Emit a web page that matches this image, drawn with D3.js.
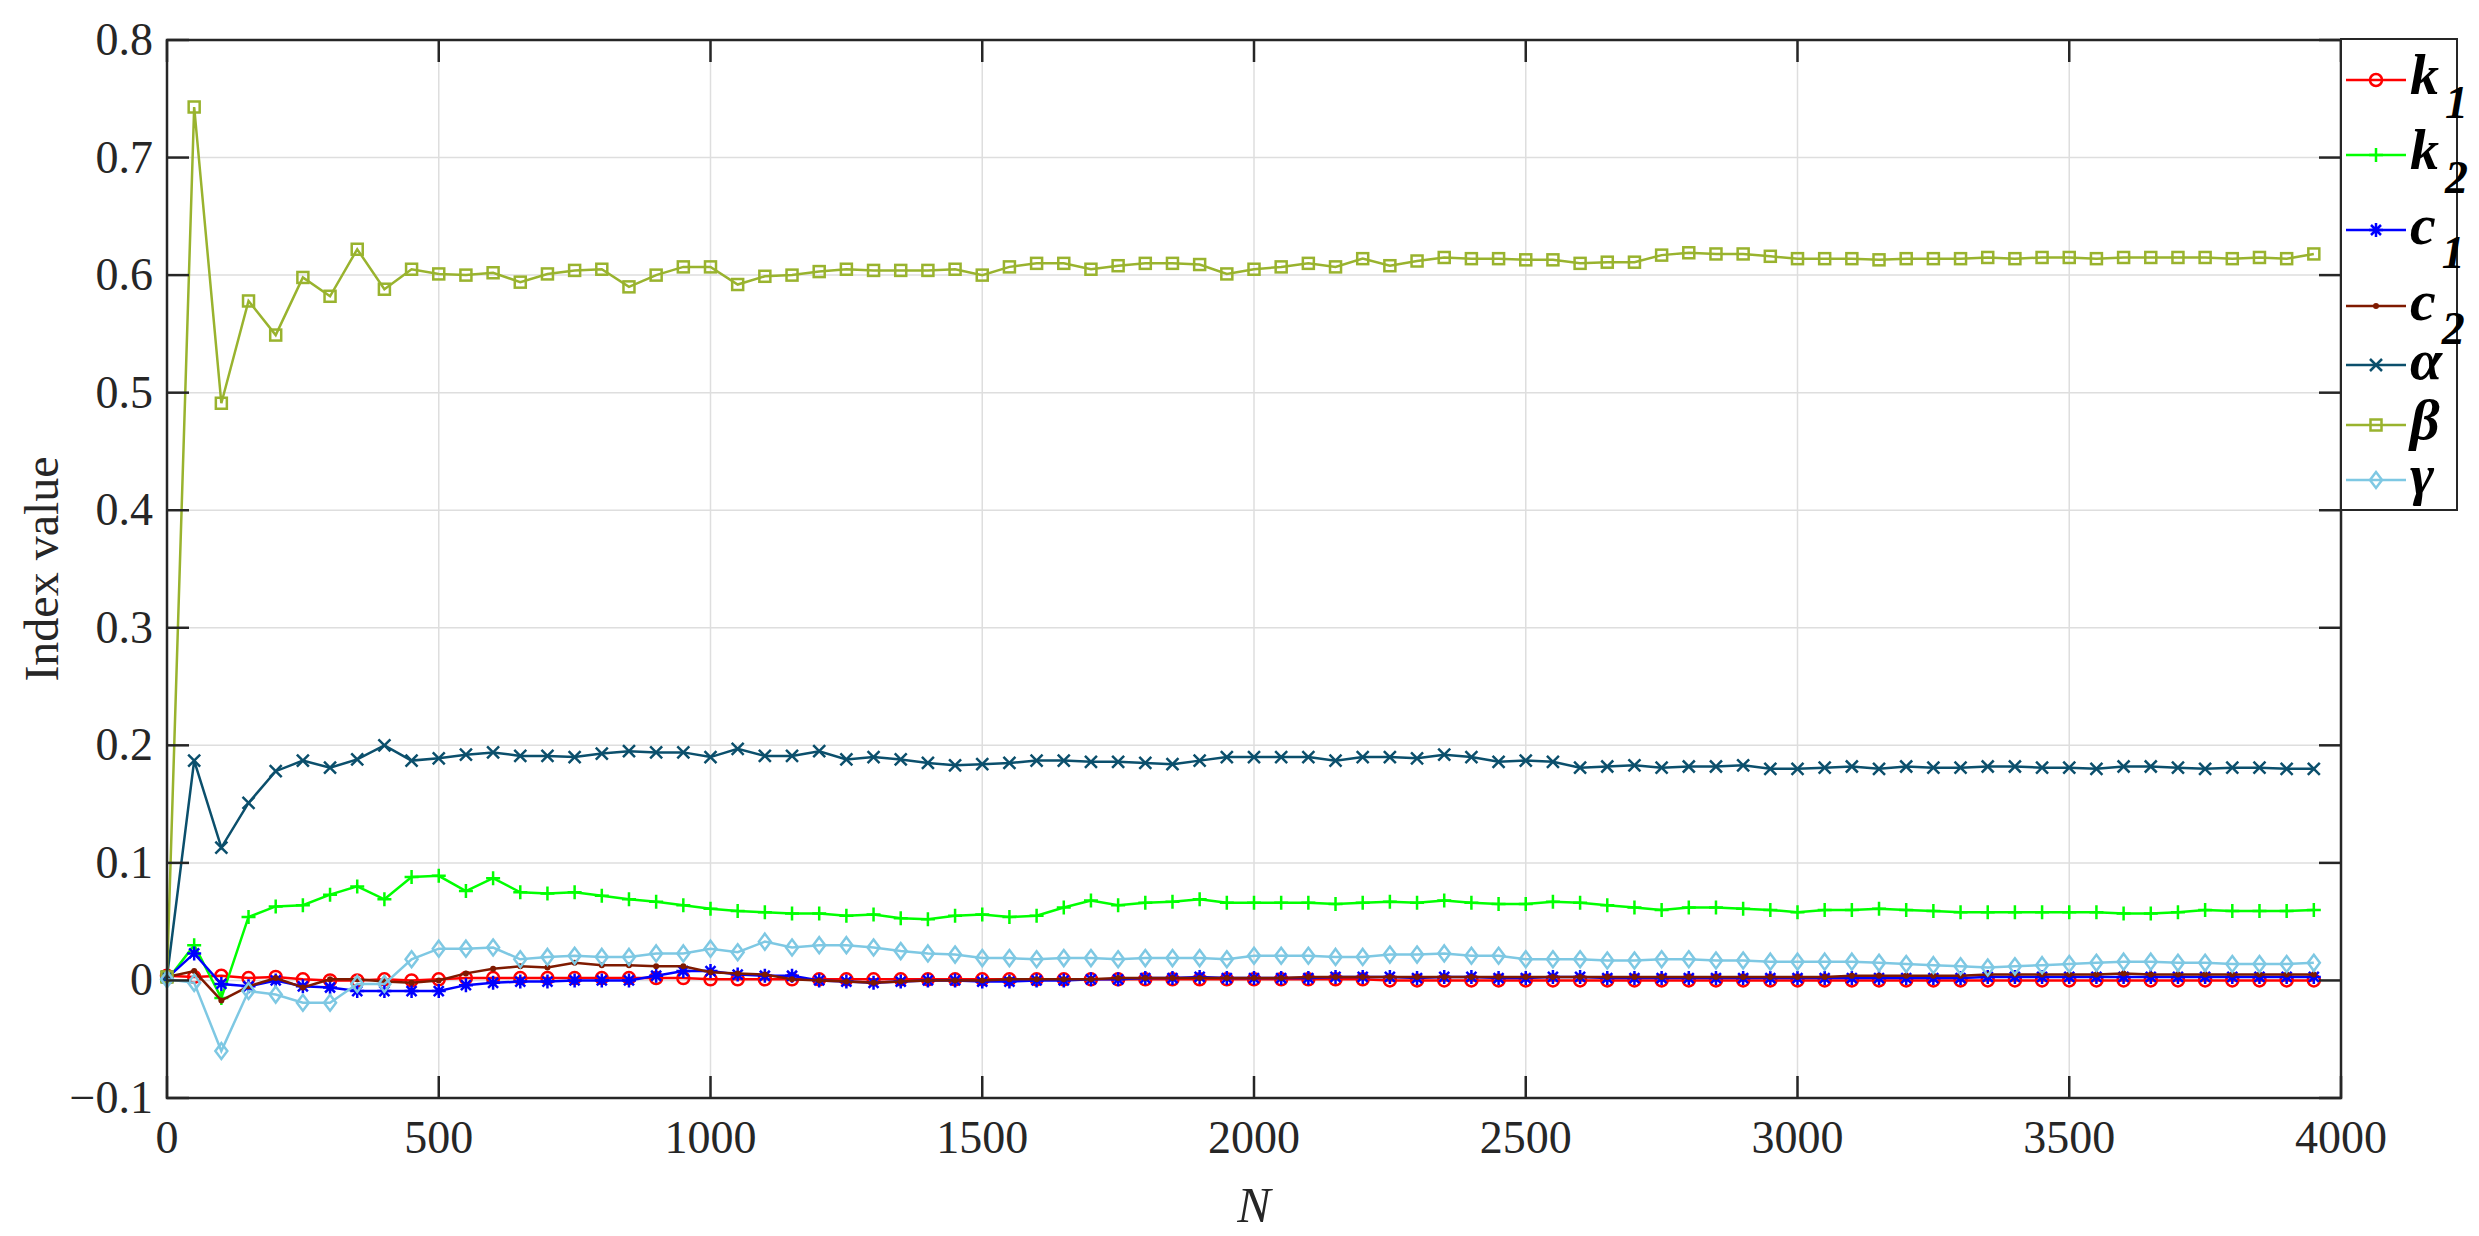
<!DOCTYPE html>
<html><head><meta charset="utf-8">
<script src="https://cdn.jsdelivr.net/npm/d3@7"></script>
<style>body{margin:0;background:#fff}</style>
</head><body><svg id="c" width="2479" height="1236" font-family="'Liberation Serif', 'Times New Roman', Times, serif"></svg>
<script>
const N = d3.range(0, 4000, 50);
const k1 = [0.004,0.003,0.004,0.002,0.003,0.001,0,0,0.001,0,0.001,0.002,0.002,0.002,0.002,0.002,0.002,0.002,0.002,0.002,0.001,0.001,0.001,0.001,0.001,0.001,0.001,0.001,0.001,0.001,0.001,0.001,0.001,0.001,0.001,0.001,0.001,0.001,0.001,0.001,0.001,0.001,0.001,0.001,0.001,0,0,0,0,0,0,0,0,0,0,0,0,0,0,0,0,0,0,0,0,0,0,0,0,0,0,0,0,0,0,0,0,0,0,0];
const k2 = [0,0.030,-0.015,0.054,0.063,0.064,0.073,0.080,0.069,0.088,0.089,0.076,0.087,0.075,0.074,0.075,0.072,0.069,0.067,0.064,0.061,0.059,0.058,0.057,0.057,0.055,0.056,0.053,0.052,0.055,0.056,0.054,0.055,0.062,0.068,0.064,0.066,0.067,0.069,0.066,0.066,0.066,0.066,0.065,0.066,0.067,0.066,0.068,0.066,0.065,0.065,0.067,0.066,0.064,0.062,0.060,0.062,0.062,0.061,0.060,0.058,0.060,0.060,0.061,0.060,0.059,0.058,0.058,0.058,0.058,0.058,0.058,0.057,0.057,0.058,0.060,0.059,0.059,0.059,0.060];
const c1 = [0.002,0.023,-0.003,-0.005,0,-0.005,-0.006,-0.009,-0.009,-0.009,-0.009,-0.004,-0.002,-0.001,-0.001,0,0,0,0.004,0.008,0.008,0.005,0.004,0.004,0,-0.001,-0.002,-0.001,0,0,-0.001,-0.001,0,0,0.001,0.001,0.002,0.002,0.003,0.002,0.002,0.002,0.002,0.003,0.003,0.003,0.002,0.003,0.003,0.002,0.002,0.003,0.003,0.002,0.002,0.002,0.002,0.002,0.002,0.002,0.002,0.002,0.002,0.002,0.002,0.002,0.002,0.003,0.003,0.003,0.003,0.003,0.003,0.003,0.003,0.003,0.003,0.003,0.003,0.003];
const c2 = [0.003,0.008,-0.017,-0.005,0.002,-0.006,0.001,0.001,-0.001,-0.002,0,0.006,0.010,0.012,0.011,0.015,0.013,0.013,0.012,0.012,0.007,0.006,0.005,0.001,0,-0.001,-0.002,-0.001,0,0,0,0.001,0.001,0.001,0.001,0.002,0.002,0.002,0.002,0.002,0.002,0.002,0.003,0.003,0.003,0.003,0.003,0.003,0.003,0.003,0.003,0.003,0.003,0.003,0.003,0.003,0.003,0.003,0.003,0.003,0.003,0.003,0.004,0.004,0.004,0.004,0.004,0.005,0.005,0.005,0.005,0.005,0.006,0.005,0.005,0.005,0.005,0.005,0.005,0.005];
const alpha = [0.003,0.187,0.113,0.151,0.178,0.187,0.181,0.188,0.200,0.187,0.189,0.192,0.194,0.191,0.191,0.190,0.193,0.195,0.194,0.194,0.190,0.197,0.191,0.191,0.195,0.188,0.190,0.188,0.185,0.183,0.184,0.185,0.187,0.187,0.186,0.186,0.185,0.184,0.187,0.190,0.190,0.190,0.190,0.187,0.190,0.190,0.189,0.192,0.190,0.186,0.187,0.186,0.181,0.182,0.183,0.181,0.182,0.182,0.183,0.180,0.180,0.181,0.182,0.180,0.182,0.181,0.181,0.182,0.182,0.181,0.181,0.180,0.182,0.182,0.181,0.180,0.181,0.181,0.180,0.180];
const beta = [0.003,0.743,0.491,0.578,0.549,0.598,0.582,0.622,0.588,0.605,0.601,0.600,0.602,0.594,0.601,0.604,0.605,0.590,0.600,0.607,0.607,0.592,0.599,0.600,0.603,0.605,0.604,0.604,0.604,0.605,0.600,0.607,0.610,0.610,0.605,0.608,0.610,0.610,0.609,0.601,0.605,0.607,0.610,0.607,0.614,0.608,0.612,0.615,0.614,0.614,0.613,0.613,0.610,0.611,0.611,0.617,0.619,0.618,0.618,0.616,0.614,0.614,0.614,0.613,0.614,0.614,0.614,0.615,0.614,0.615,0.615,0.614,0.615,0.615,0.615,0.615,0.614,0.615,0.614,0.618];
const gamma = [0.001,-0.002,-0.060,-0.009,-0.012,-0.019,-0.019,-0.003,-0.003,0.018,0.027,0.027,0.028,0.018,0.020,0.021,0.020,0.020,0.023,0.023,0.027,0.024,0.033,0.028,0.030,0.030,0.028,0.025,0.023,0.022,0.019,0.019,0.018,0.019,0.019,0.018,0.019,0.019,0.019,0.018,0.021,0.021,0.021,0.020,0.020,0.022,0.022,0.023,0.021,0.021,0.018,0.018,0.018,0.017,0.017,0.018,0.018,0.017,0.017,0.016,0.016,0.016,0.016,0.015,0.014,0.013,0.012,0.011,0.012,0.013,0.014,0.015,0.016,0.016,0.015,0.015,0.014,0.014,0.014,0.015];
const xTicks = [0,500,1000,1500,2000,2500,3000,3500,4000];
const yTicks = [-0.1,0,0.1,0.2,0.3,0.4,0.5,0.6,0.7,0.8];

const series = [
 {name:"k",sub:"1",v:k1,color:"#ff0000",m:"circle"},
 {name:"k",sub:"2",v:k2,color:"#00ff00",m:"plus"},
 {name:"c",sub:"1",v:c1,color:"#0000ff",m:"star"},
 {name:"c",sub:"2",v:c2,color:"#7f1a00",m:"dot"},
 {name:"α",sub:"",v:alpha,color:"#0b4f6c",m:"x"},
 {name:"β",sub:"",v:beta,color:"#99b32e",m:"square"},
 {name:"γ",sub:"",v:gamma,color:"#7ec8e3",m:"diamond"}];

const FF="'Liberation Serif', 'Times New Roman', Times, serif";
const L=167,R=2341,T=40,B=1098;
const x=d3.scaleLinear().domain([0,4000]).range([L,R]);
const y=d3.scaleLinear().domain([-0.1,0.8]).range([B,T]);
const svg=d3.select("#c");
const g=svg.append("g");
g.selectAll(".gx").data(xTicks).enter().append("line").attr("x1",d=>x(d)).attr("x2",d=>x(d)).attr("y1",T).attr("y2",B).attr("stroke","#dedede").attr("stroke-width",1.5);
g.selectAll(".gy").data(yTicks).enter().append("line").attr("y1",d=>y(d)).attr("y2",d=>y(d)).attr("x1",L).attr("x2",R).attr("stroke","#dedede").attr("stroke-width",1.5);

function sym(sel,m,c){
  const s=5.5;
  if(m==="circle") sel.append("circle").attr("r",6).attr("fill","none").attr("stroke",c).attr("stroke-width",2.5);
  else if(m==="plus") sel.append("path").attr("d",`M-7,0H7M0,-7V7`).attr("stroke",c).attr("stroke-width",2.5);
  else if(m==="x") sel.append("path").attr("d",`M-6,-6L6,6M-6,6L6,-6`).attr("stroke",c).attr("stroke-width",2.5);
  else if(m==="star") sel.append("path").attr("d",`M-7,0H7M0,-7V7M-5,-5L5,5M-5,5L5,-5`).attr("stroke",c).attr("stroke-width",2.5);
  else if(m==="dot") sel.append("circle").attr("r",3).attr("fill",c);
  else if(m==="square") sel.append("rect").attr("x",-s).attr("y",-s).attr("width",2*s).attr("height",2*s).attr("fill","none").attr("stroke",c).attr("stroke-width",2.5);
  else if(m==="diamond") sel.append("path").attr("d",`M0,-8L6,0L0,8L-6,0Z`).attr("fill","none").attr("stroke",c).attr("stroke-width",2.5);
}
const line=d3.line().x((d,i)=>x(N[i])).y(d=>y(d));
series.forEach(s=>{
  g.append("path").datum(s.v).attr("d",line).attr("fill","none").attr("stroke",s.color).attr("stroke-width",2.5);
  s.v.forEach((v,i)=>{const gg=g.append("g").attr("transform",`translate(${x(N[i])},${y(v)})`);sym(gg,s.m,s.color);});
});
g.append("rect").attr("x",L).attr("y",T).attr("width",R-L).attr("height",B-T).attr("fill","none").attr("stroke","#262626").attr("stroke-width",2.5);
const tl=22;
xTicks.forEach(d=>{
  g.append("line").attr("x1",x(d)).attr("x2",x(d)).attr("y1",B).attr("y2",B-tl).attr("stroke","#262626").attr("stroke-width",2.5);
  g.append("line").attr("x1",x(d)).attr("x2",x(d)).attr("y1",T).attr("y2",T+tl).attr("stroke","#262626").attr("stroke-width",2.5);
  g.append("text").attr("font-family",FF).attr("x",x(d)).attr("y",B+55).attr("text-anchor","middle").attr("font-size",46).attr("fill","#262626").text(d3.format("d")(d));
});
yTicks.forEach(d=>{
  g.append("line").attr("x1",L).attr("x2",L+tl).attr("y1",y(d)).attr("y2",y(d)).attr("stroke","#262626").attr("stroke-width",2.5);
  g.append("line").attr("x1",R).attr("x2",R-tl).attr("y1",y(d)).attr("y2",y(d)).attr("stroke","#262626").attr("stroke-width",2.5);
  g.append("text").attr("font-family",FF).attr("x",L-14).attr("y",y(d)+15).attr("text-anchor","end").attr("font-size",46).attr("fill","#262626").text(d===0?"0":d3.format(".1f")(d));
});
svg.append("text").attr("font-family",FF).attr("x",(L+R)/2).attr("y",1222).attr("text-anchor","middle").attr("font-size",50).attr("font-style","italic").attr("fill","#262626").text("N");
svg.append("text").attr("font-family",FF).attr("transform",`translate(58,${(T+B)/2}) rotate(-90)`).attr("text-anchor","middle").attr("font-size",48).attr("fill","#262626").text("Index value");
const lg=svg.append("g");
lg.append("rect").attr("x",2341).attr("y",39).attr("width",116).attr("height",471).attr("fill","#fff").attr("stroke","#262626").attr("stroke-width",2);
const ly=[80,155,230,306,365,425,480];
series.forEach((s,i)=>{
  lg.append("line").attr("x1",2346).attr("x2",2406).attr("y1",ly[i]).attr("y2",ly[i]).attr("stroke",s.color).attr("stroke-width",2.5);
  sym(lg.append("g").attr("transform",`translate(2376,${ly[i]})`),s.m,s.color);
  const t=lg.append("text").attr("font-family",FF).attr("x",2410).attr("y",ly[i]+14).attr("font-size",58).attr("font-style","italic").attr("font-weight","bold").attr("fill","#000").text(s.name);
  if(s.sub) t.append("tspan").attr("dy",24).attr("dx",6).attr("font-size",46).text(s.sub);
});
</script></body></html>
